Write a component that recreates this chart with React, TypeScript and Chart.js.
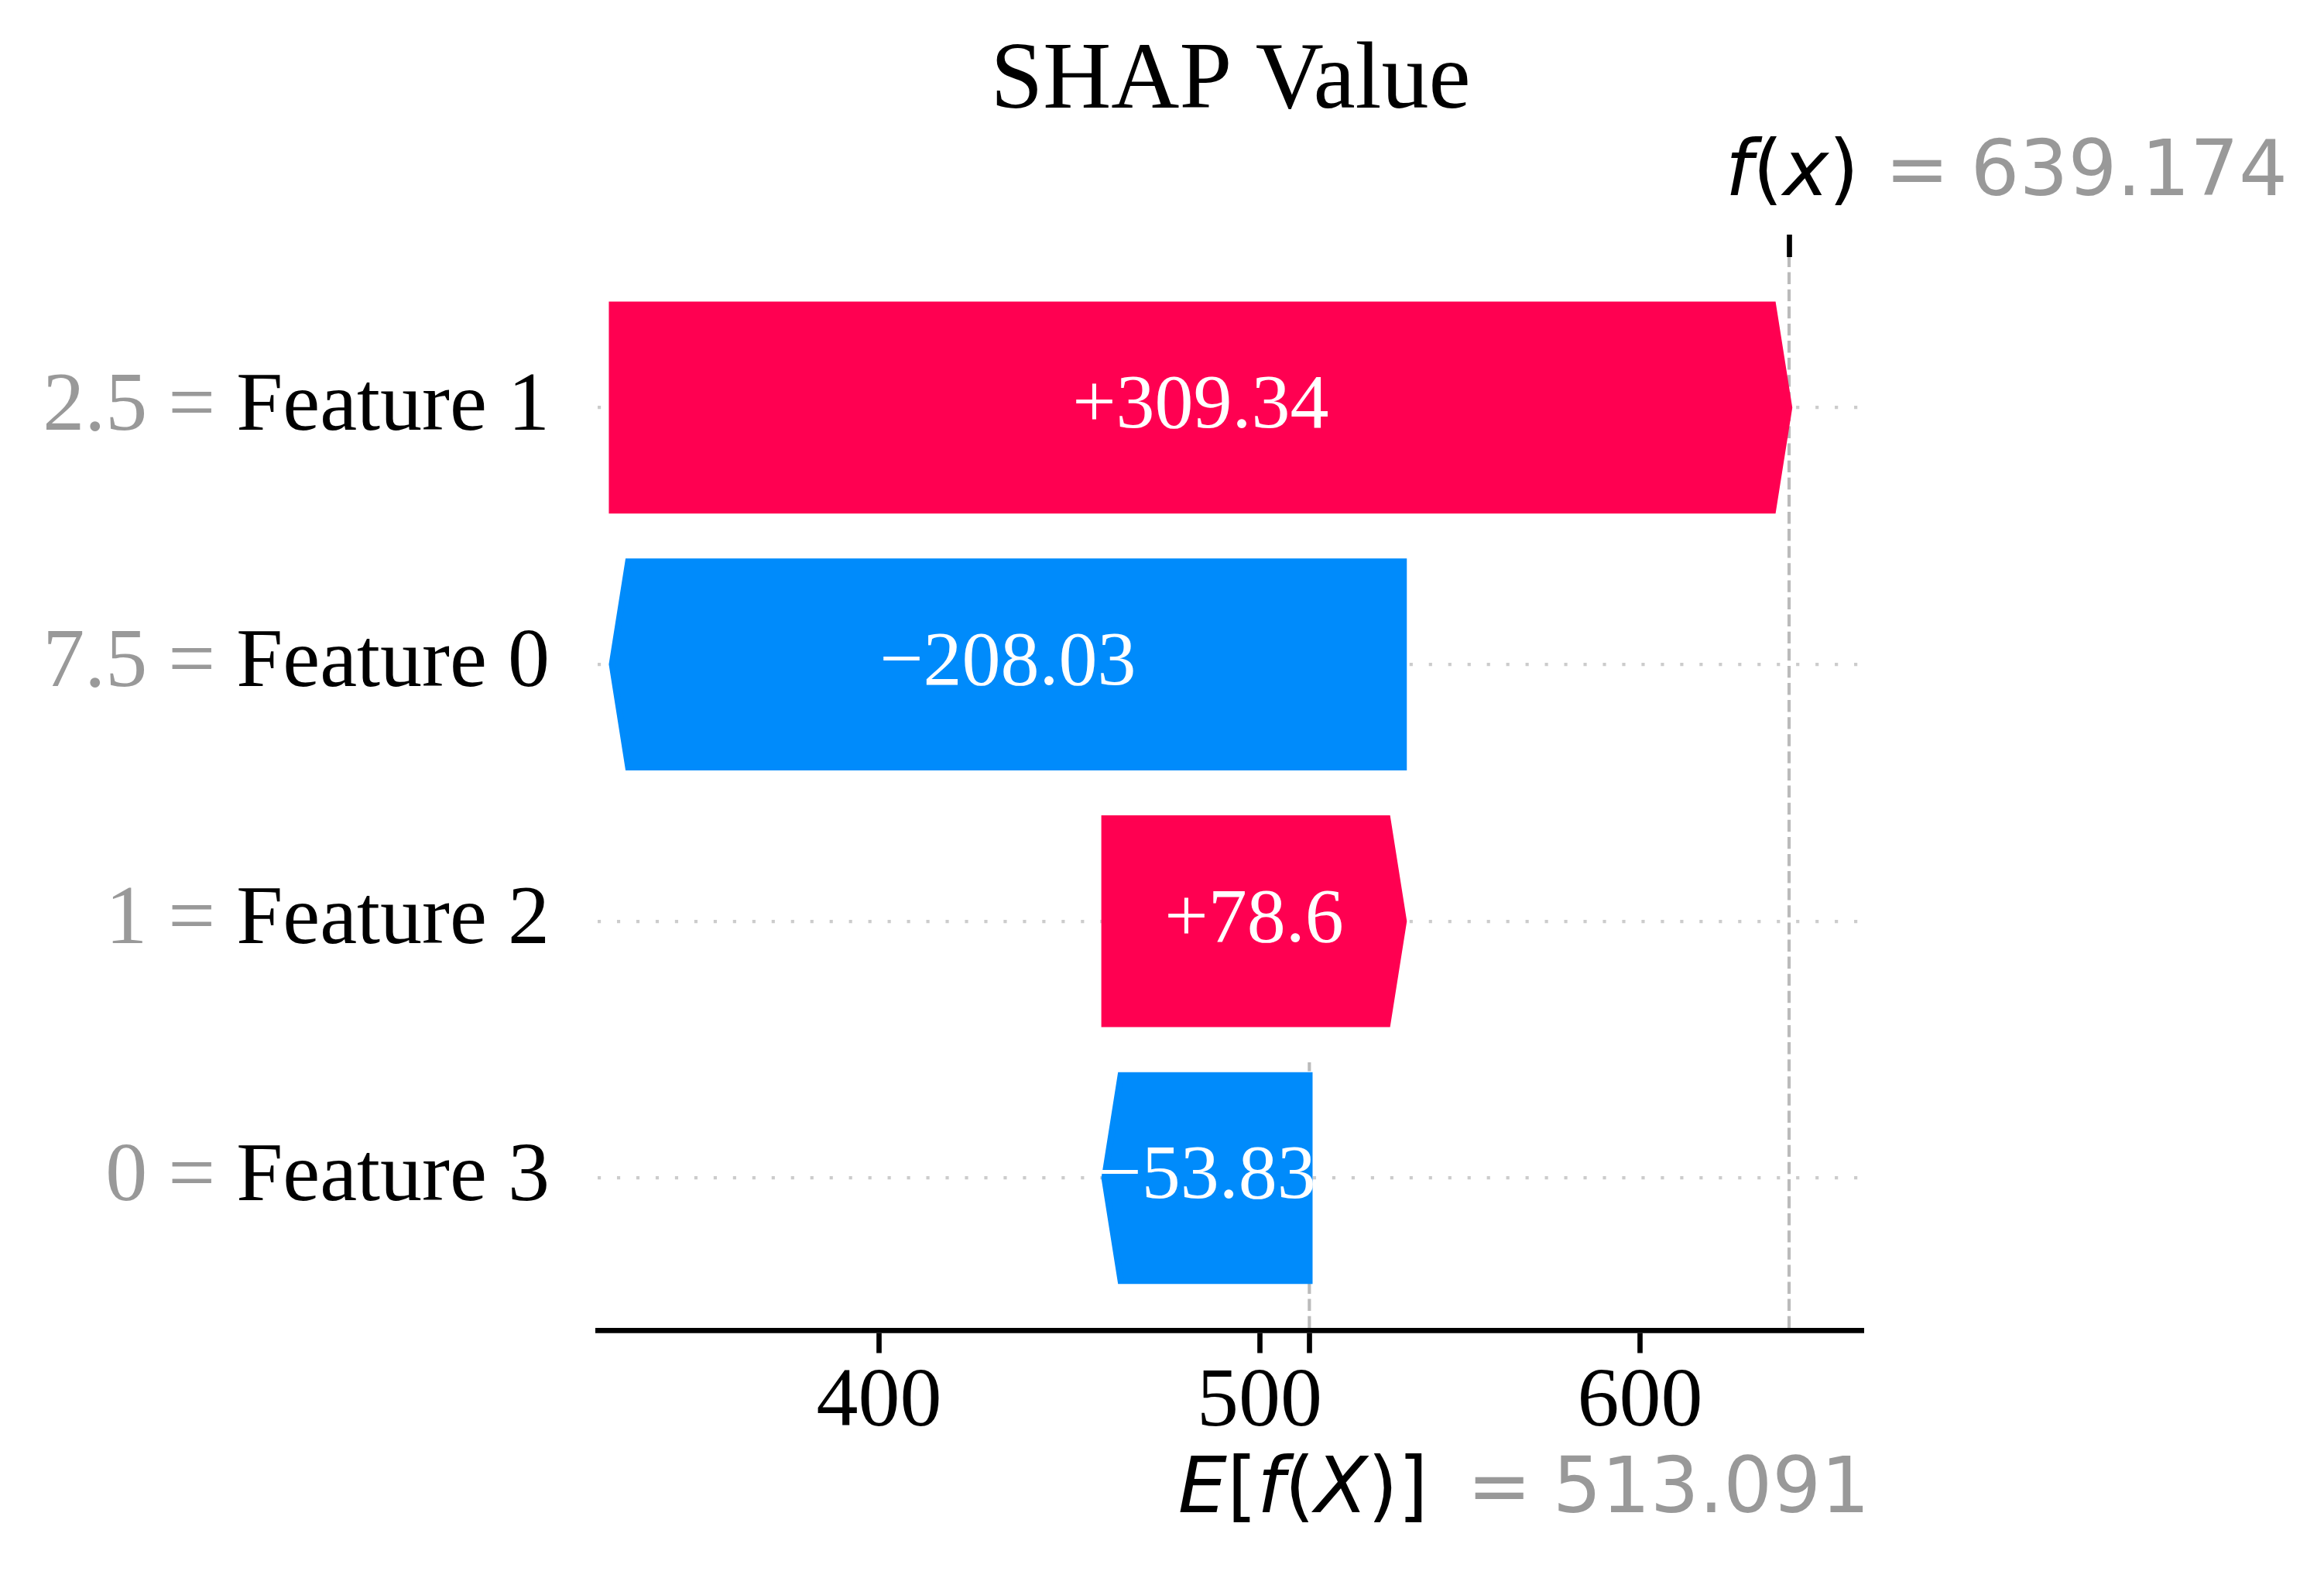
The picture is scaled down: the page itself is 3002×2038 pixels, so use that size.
import React, { useEffect, useRef } from 'react';
import { Chart, registerables } from 'chart.js';

Chart.register(...registerables);

// ---- data (top row first) ----
const featureNames = ['Feature 1', 'Feature 0', 'Feature 2', 'Feature 3'];
const featureValues = ['2.5', '7.5', '1', '0'];
const shapValues = [309.34, -208.03, 78.6, -53.83];
const baseValue = 513.091;
const fxValue = 639.174;
const xTickValues = [400, 500, 600];
const xRange = [326.04, 658.7];
const yRange = [-0.594, 3.586];

const RED = '#ff0051';
const BLUE = '#008bfb';
const GREY = '#999999';
const SERIF = "'Liberation Serif', 'Times New Roman', serif";
const SANS = "'DejaVu Sans', sans-serif";

const n = featureNames.length;

// floating bars: [start, end] along the cumulative path from the base value
const barData: { x: [number, number]; y: number }[] = new Array(n);
{
  let cur = baseValue;
  for (let i = n - 1; i >= 0; i--) {
    const start = cur;
    const end = cur + shapValues[i];
    barData[i] = { x: [start, end], y: n - 1 - i };
    cur = end;
  }
}

function fmt(v: number): string {
  const s = Math.abs(v).toFixed(2).replace(/\.?0+$/, '');
  return (v < 0 ? '\u2212' : '+') + s;
}

function drawSegments(ctx: CanvasRenderingContext2D, segs: [string, boolean][], size: number, x: number, y: number) {
  const fonts = segs.map(([, it]) => `${it ? 'italic ' : ''}${size}px ${SANS}`);
  let total = 0;
  const widths = segs.map(([t], i) => {
    ctx.font = fonts[i];
    const w = ctx.measureText(t).width;
    total += w;
    return w;
  });
  let cx = x - total / 2;
  segs.forEach(([t], i) => {
    ctx.font = fonts[i];
    ctx.fillText(t, cx, y);
    cx += widths[i];
  });
}

function drawValue(ctx: CanvasRenderingContext2D, value: number, size: number, x: number, y: number) {
  ctx.font = `${size}px ${SANS}`;
  ctx.fillText('=', x, y);
  const w = ctx.measureText('=').width;
  ctx.fillText(value.toFixed(3), x + w + size * 0.278, y);
}

const waterfallPlugin = {
  id: 'shapWaterfall',
  beforeDatasetsDraw(chart: any) {
    const { ctx, chartArea: a } = chart;
    const xs = chart.scales.x;
    ctx.save();
    ctx.strokeStyle = '#bbbbbb';
    ctx.lineWidth = 4.17;
    ctx.setLineDash([15.4, 6.7]);
    const ex = xs.getPixelForValue(baseValue);
    ctx.beginPath();
    ctx.moveTo(ex, a.bottom - 3.4);
    ctx.lineTo(ex, a.bottom - (a.bottom - a.top) / n);
    ctx.stroke();
    const fx = xs.getPixelForValue(fxValue);
    ctx.beginPath();
    ctx.moveTo(fx, a.bottom - 3.4);
    ctx.lineTo(fx, a.top);
    ctx.stroke();
    ctx.restore();
  },
  afterDatasetsDraw(chart: any) {
    const { ctx } = chart;
    const meta = chart.getDatasetMeta(0);
    ctx.save();
    meta.data.forEach((el: any, i: number) => {
      const { x: xe, y, base, height } = el.getProps(['x', 'y', 'base', 'height'], true);
      const positive = shapValues[i] >= 0;
      const tip = positive ? Math.max(xe, base) : Math.min(xe, base);
      const tail = positive ? Math.min(xe, base) : Math.max(xe, base);
      const dir = positive ? 1 : -1;
      const hl = Math.min(21, Math.abs(tip - tail));
      const top = y - height / 2;
      const bot = y + height / 2;
      const color = positive ? RED : BLUE;
      ctx.beginPath();
      ctx.moveTo(tail, top);
      ctx.lineTo(tip - dir * hl, top);
      ctx.lineTo(tip, y);
      ctx.lineTo(tip - dir * hl, bot);
      ctx.lineTo(tail, bot);
      ctx.closePath();
      ctx.fillStyle = color;
      ctx.fill();
      ctx.strokeStyle = color;
      ctx.lineWidth = 8.33;
      ctx.lineJoin = 'miter';
      ctx.stroke();

      ctx.fillStyle = '#ffffff';
      ctx.font = `100px ${SERIF}`;
      ctx.textAlign = 'center';
      ctx.textBaseline = 'alphabetic';
      ctx.fillText(fmt(shapValues[i]), (tip + tail) / 2, y + 26);
    });
    ctx.restore();
  },
  afterDraw(chart: any) {
    const { ctx, chartArea: a } = chart;
    const xs = chart.scales.x;
    const ys = chart.scales.y;
    ctx.save();
    // grey feature values in front of the y labels
    const labelRight = ys.right - ys.options.ticks.padding;
    ctx.textBaseline = 'middle';
    ctx.textAlign = 'right';
    featureNames.forEach((name, i) => {
      ctx.font = `108px ${SERIF}`;
      const w = ctx.measureText(name).width;
      ctx.fillStyle = GREY;
      ctx.fillText(featureValues[i] + ' = ', labelRight - w, ys.getPixelForValue(n - 1 - i));
    });

    ctx.textAlign = 'left';
    ctx.textBaseline = 'alphabetic';
    // f(x) label
    const fx = xs.getPixelForValue(fxValue);
    ctx.fillStyle = '#000000';
    drawSegments(ctx, [['f', true], ['(', false], ['x', true], [')', false]], 100, fx + 4, a.top - 80);
    ctx.fillStyle = GREY;
    drawValue(ctx, fxValue, 99, fx + 124, a.top - 80);

    // E[f(X)] label
    const ex = xs.getPixelForValue(baseValue);
    ctx.fillStyle = '#000000';
    drawSegments(
      ctx,
      [['E', true], ['[', false], ['f', true], ['(', false], ['X', true], [')', false], [']', false]],
      100,
      ex - 8,
      a.bottom + 234.5
    );
    ctx.fillStyle = GREY;
    drawValue(ctx, baseValue, 99, ex + 204, a.bottom + 234.5);
    ctx.restore();
  },
};

export default function App() {
  const ref = useRef<HTMLCanvasElement>(null);
  useEffect(() => {
    document.body.style.margin = '0';
    const canvas = ref.current!;
    const chart = new Chart(canvas, {
      type: 'bar',
      data: {
        datasets: [
          {
            data: barData as any,
            backgroundColor: 'rgba(0,0,0,0)',
            borderWidth: 0,
            barPercentage: 0.8,
            categoryPercentage: 1,
          },
        ],
      },
      options: {
        indexAxis: 'y',
        responsive: false,
        animation: false,
        devicePixelRatio: 1,
        events: [],
        layout: { padding: { left: 0, right: 595, top: 0, bottom: 0 } },
        plugins: {
          legend: { display: false },
          tooltip: { enabled: false },
          title: {
            display: true,
            text: 'SHAP Value',
            color: '#000000',
            fullSize: false,
            font: { family: SERIF, size: 122, weight: 'normal', lineHeight: 1 },
            padding: { top: 46, bottom: 0 },
          },
        },
        scales: {
          x: {
            type: 'linear',
            position: 'bottom',
            min: xRange[0],
            max: xRange[1],
            offset: false,
            afterBuildTicks: (s: any) => {
              s.ticks = [...xTickValues, baseValue].sort((a, b) => a - b).map((v) => ({ value: v }));
            },
            afterFit: (s: any) => {
              s.height = 319.5;
            },
            ticks: {
              autoSkip: false,
              maxRotation: 0,
              padding: 0,
              color: '#000000',
              font: { family: SERIF, size: 108, lineHeight: 1.2 },
              callback: (v: any) => (v === baseValue ? '' : String(v)),
            },
            grid: {
              display: true,
              offset: false,
              drawOnChartArea: false,
              drawTicks: true,
              tickLength: 29,
              tickWidth: 6.67,
              tickColor: '#000000',
            },
            border: { display: true, color: '#000000', width: 6.67 },
          },
          x2: {
            type: 'linear',
            position: 'top',
            min: xRange[0],
            max: xRange[1],
            offset: false,
            afterBuildTicks: (s: any) => {
              s.ticks = [{ value: fxValue }];
            },
            afterFit: (s: any) => {
              s.height = 164;
            },
            ticks: { display: false },
            grid: {
              display: true,
              offset: false,
              drawOnChartArea: false,
              drawTicks: true,
              tickLength: 29,
              tickWidth: 6.67,
              tickColor: '#000000',
            },
            border: { display: false },
          },
          y: {
            type: 'linear',
            min: yRange[0],
            max: yRange[1],
            offset: false,
            afterBuildTicks: (s: any) => {
              s.ticks = featureNames.map((_, i) => ({ value: i }));
            },
            afterFit: (s: any) => {
              s.width = 772;
            },
            ticks: {
              padding: 62,
              color: '#000000',
              font: { family: SERIF, size: 108 },
              callback: (v: any) => featureNames[n - 1 - Number(v)],
            },
            grid: {
              display: true,
              offset: false,
              drawTicks: false,
              color: '#cccccc',
              lineWidth: 4.17,
            },
            border: { display: false, dash: [4.17, 20.8] },
          },
        },
      },
      plugins: [waterfallPlugin],
    } as any);
    return () => chart.destroy();
  }, []);
  return <canvas ref={ref} width={3002} height={2038} style={{ display: 'block', width: '3002px', height: '2038px' }} />;
}
